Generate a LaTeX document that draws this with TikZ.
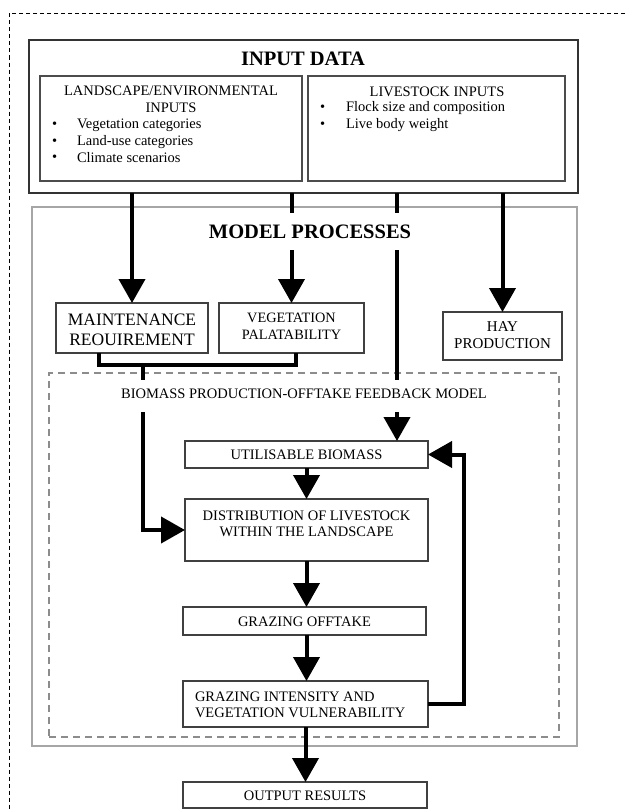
\documentclass[tikz,border=0pt]{standalone}
\usepackage{fontspec}
\setmainfont{Liberation Serif}
\usetikzlibrary{arrows.meta}
\begin{document}
\begin{tikzpicture}[x=1pt,y=-1pt,
  every node/.style={inner sep=0pt,outer sep=0pt},
  box/.style={draw=black!75,line width=1.6pt,anchor=north west},
  ibox/.style={draw=black!70,line width=1.3pt,anchor=north west},
  flow/.style={line width=4pt,-{Triangle[width=26pt,length=24pt]}},
  seg/.style={line width=4pt},
  txt/.style={font=\fontsize{14.5}{16.5}\selectfont,align=center},
  ltxt/.style={font=\fontsize{14.5}{16.5}\selectfont,anchor=west},
  head/.style={font=\fontsize{20.5}{24}\selectfont\bfseries},
]
\useasboundingbox (0,0) rectangle (625,811);
% outer dashed frame
\draw[dash pattern=on 4pt off 3pt,line width=1pt] (625,13) -- (9.5,13) -- (9.5,811);

% input data
\node[anchor=north west,draw=black!80,line width=2.5pt,minimum width=549pt,minimum height=153pt] (input) at (29,40) {};
\node[head] (inputT) at (303,58.5) {INPUT DATA};
\node[ibox,minimum width=262pt,minimum height=105pt] (land) at (40,76) {};
\node[ibox,minimum width=257pt,minimum height=105pt] (live) at (308,76) {};
\node[txt] (landT) at (171,99.5) {LANDSCAPE/ENVIRONMENTAL\\INPUTS};
\node[ltxt] (lb1) at (52,125) {•};
\node[ltxt] (lb2) at (52,142) {•};
\node[ltxt] (lb3) at (52,158) {•};
\node[ltxt] (l1) at (77,125) {Vegetation categories};
\node[ltxt] (l2) at (77,142) {Land-use categories};
\node[ltxt] (l3) at (77,158) {Climate scenarios};
\node[txt] (liveT) at (437,91.5) {LIVESTOCK INPUTS};
\node[ltxt] (vb1) at (320,108) {•};
\node[ltxt] (vb2) at (320,125) {•};
\node[ltxt] (v1) at (346,108) {Flock size and composition};
\node[ltxt] (v2) at (346,125) {Live body weight};

% model processes
\node[anchor=north west,draw=black!35,line width=1.5pt,minimum width=545pt,minimum height=539pt] (model) at (32,207) {};
\node[head] (modelT) at (310,232) {MODEL PROCESSES};

\node[box,minimum width=152pt,minimum height=50pt] (maint) at (56,303) {};
\node[font=\fontsize{17.5}{20}\selectfont,align=center] (maintT) at (132,330) {MAINTENANCE\\REOUIREMENT};
\node[box,minimum width=145pt,minimum height=50pt] (veg) at (219,303) {};
\node[font=\fontsize{14.3}{17}\selectfont,align=center] (vegT) at (291.5,326.5) {VEGETATION\\PALATABILITY};
\node[box,minimum width=119pt,minimum height=48pt] (hay) at (443,312) {};
\node[font=\fontsize{15}{17}\selectfont,align=center] (hayT) at (502.5,335.5) {HAY\\PRODUCTION};

% feedback model
\node[anchor=north west,draw=black!45,line width=1.2pt,dash pattern=on 7pt off 5pt,minimum width=510pt,minimum height=364pt] (fb) at (49,373) {};
\node[txt] (fbT) at (304,394) {BIOMASS PRODUCTION-OFFTAKE FEEDBACK MODEL};

\node[box,minimum width=243pt,minimum height=27pt] (util) at (185,441) {};
\node[txt] (utilT) at (306.5,455) {UTILISABLE BIOMASS};
\node[box,minimum width=243pt,minimum height=62pt] (dist) at (185,499) {};
\node[txt] (distT) at (306.5,524) {DISTRIBUTION OF LIVESTOCK\\WITHIN THE LANDSCAPE};
\node[box,minimum width=243pt,minimum height=28pt] (graz) at (183,607) {};
\node[txt] (grazT) at (304.5,621.5) {GRAZING OFFTAKE};
\node[box,minimum width=245pt,minimum height=46pt] (gi) at (183,681) {};
\node[font=\fontsize{14.5}{16.5}\selectfont,align=left,anchor=west] (giT) at (195,705) {GRAZING INTENSITY AND\\VEGETATION VULNERABILITY};
\node[box,minimum width=244pt,minimum height=26pt] (out) at (183,782) {};
\node[txt] (outT) at (305,795.5) {OUTPUT RESULTS};

% helper coordinates
\coordinate (gapT) at (0,213);
\coordinate (gapB) at (0,250);
\coordinate (lblT) at (0,380);
\coordinate (lblB) at (0,412);
\coordinate (x3) at (397,0);
\coordinate (mx) at (99,0);
\coordinate (vx) at (296,0);
\coordinate (cx) at (143,0);
\coordinate (j) at (0,365);

% connectors
\draw[flow] (maint.north |- input.south) -- (maint.north);
\draw[seg] (veg.north |- input.south) -- (veg.north |- gapT);
\draw[flow] (veg.north |- gapB) -- (veg.north);
\draw[seg] (x3 |- input.south) -- (x3 |- gapT);
\draw[seg] (x3 |- gapB) -- (x3 |- lblT);
\draw[flow] (x3 |- lblB) -- (x3 |- util.north);
\draw[flow] (hay.north |- input.south) -- (hay.north);

\draw[seg,line join=miter] (mx |- maint.south) |- (vx |- j) -- (vx |- veg.south);
\draw[seg] (cx |- j) -- (cx |- lblT);
\draw[flow,line join=miter] (cx |- lblB) |- (dist.west);

\draw[flow] (util.south) -- (util.south |- dist.north);
\draw[flow] (dist.south) -- (dist.south |- graz.north);
\draw[flow] (graz.south -| dist.south) -- (dist.south |- gi.north);
\draw[flow] (gi.south) -- (gi.south |- out.north);
\draw[flow,line join=miter] (gi.east) -- ++(36,0) |- (util.east);
\end{tikzpicture}
\end{document}
